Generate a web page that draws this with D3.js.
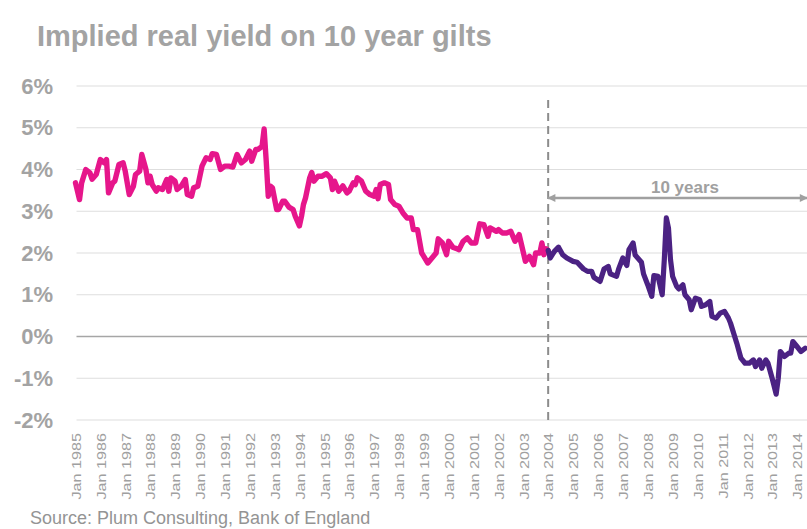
<!DOCTYPE html>
<html>
<head>
<meta charset="utf-8">
<script src="https://cdn.jsdelivr.net/npm/d3@7"></script>
<style>
  body { margin: 0; background: #fff; }
  svg { display: block; font-family: "Liberation Sans", Arial, sans-serif; }
</style>
</head>
<body>
<script>
const width = 807;
const height = 529;

// Monthly readings, 1985 to 2003 (pink) and 2004 onward (purple), in %
const pinkDates = ["1985-01","1985-03","1985-04","1985-06","1985-08","1985-09","1985-11",
  "1986-01","1986-03","1986-04","1986-05","1986-07","1986-08","1986-10","1986-12",
  "1987-01","1987-03","1987-05","1987-06","1987-08","1987-09","1987-11","1987-12",
  "1988-01","1988-02","1988-04","1988-05","1988-07","1988-09","1988-10","1988-11",
  "1989-01","1989-02","1989-04","1989-06","1989-07","1989-09","1989-10","1989-12",
  "1990-02","1990-04","1990-06","1990-07","1990-09","1990-11",
  "1991-01","1991-03","1991-05","1991-07","1991-09","1991-11",
  "1992-01","1992-02","1992-04","1992-05","1992-07","1992-08","1992-09","1992-10","1992-11","1992-12",
  "1993-02","1993-03","1993-05","1993-06","1993-08","1993-10","1993-11",
  "1994-01","1994-02","1994-03","1994-04","1994-06","1994-07","1994-08","1994-10","1994-12",
  "1995-02","1995-04","1995-05","1995-06","1995-08","1995-10","1995-12",
  "1996-01","1996-03","1996-04","1996-05","1996-07","1996-09","1996-11",
  "1997-01","1997-02","1997-03","1997-04","1997-06","1997-08","1997-09","1997-11",
  "1998-01","1998-03","1998-05","1998-07","1998-08","1998-10","1998-12",
  "1999-01","1999-03","1999-05","1999-07","1999-08","1999-10","1999-12",
  "2000-01","2000-03","2000-05","2000-06","2000-08","2000-10","2000-12",
  "2001-02","2001-04","2001-06","2001-08","2001-09","2001-12",
  "2002-01","2002-03","2002-05","2002-07","2002-09","2002-11",
  "2003-02","2003-04","2003-06","2003-07","2003-09","2003-10","2003-11","2003-12","2004-01"];
const pinkValues = [3.68,3.28,3.68,4.00,3.92,3.77,3.88,
  4.24,4.16,4.24,3.44,3.68,3.72,4.12,4.16,
  3.96,3.40,3.60,3.88,3.96,4.36,4.00,3.68,
  3.84,3.64,3.48,3.56,3.52,3.76,3.48,3.80,
  3.72,3.52,3.60,3.76,3.40,3.36,3.56,3.60,
  4.08,4.28,4.24,4.38,4.36,4.00,
  4.08,4.08,4.06,4.36,4.16,4.24,
  4.44,4.20,4.48,4.48,4.55,4.97,4.20,3.36,3.60,3.56,
  3.04,3.04,3.24,3.24,3.10,3.04,2.88,
  2.65,2.88,3.16,3.32,3.80,3.93,3.72,3.84,3.84,
  3.90,3.80,3.52,3.72,3.48,3.61,3.44,
  3.48,3.68,3.64,3.80,3.72,3.48,3.40,
  3.36,3.52,3.30,3.64,3.68,3.64,3.28,3.16,
  3.12,2.96,2.84,2.84,2.56,2.56,2.00,
  1.92,1.76,1.88,2.00,2.34,2.24,1.96,
  2.28,2.14,2.10,2.08,2.28,2.36,2.24,
  2.24,2.70,2.68,2.40,2.60,2.52,
  2.56,2.48,2.48,2.52,2.28,2.44,
  1.80,1.92,1.72,2.00,2.00,2.24,1.96,2.10,2.06];

const purpleDates = ["2004-01","2004-02","2004-04","2004-06","2004-08","2004-10",
  "2005-01","2005-03","2005-06","2005-08","2005-10","2005-11",
  "2006-02","2006-04","2006-06","2006-07","2006-10","2006-11",
  "2007-01","2007-03","2007-04","2007-06","2007-07","2007-10","2007-11",
  "2008-01","2008-03","2008-04","2008-06","2008-08","2008-09","2008-10","2008-11","2008-12",
  "2009-01","2009-03","2009-04","2009-06","2009-07","2009-09","2009-10","2009-12",
  "2010-02","2010-03","2010-05","2010-07","2010-08","2010-10","2010-12",
  "2011-02","2011-04","2011-05","2011-07","2011-08","2011-10","2011-12",
  "2012-02","2012-04","2012-05","2012-07","2012-08","2012-10","2012-11",
  "2013-01","2013-03","2013-04","2013-05","2013-07","2013-09","2013-10","2013-11",
  "2014-01","2014-03","2014-05"];
const purpleValues = [2.06,1.88,2.04,2.14,1.96,1.88,
  1.80,1.78,1.62,1.56,1.56,1.42,
  1.32,1.62,1.68,1.50,1.44,1.62,
  1.88,1.70,2.08,2.24,1.95,1.78,1.50,
  1.24,0.96,1.46,1.44,1.00,1.84,2.84,2.60,1.84,
  1.44,1.20,1.14,1.24,1.00,0.88,0.64,0.92,
  0.88,0.72,0.76,0.84,0.48,0.44,0.56,
  0.60,0.44,0.32,0.00,-0.16,-0.52,-0.64,
  -0.64,-0.56,-0.72,-0.56,-0.76,-0.56,-0.64,
  -1.00,-1.38,-1.00,-0.36,-0.48,-0.40,-0.40,-0.12,
  -0.24,-0.36,-0.28];

const yTicks = [-2, -1, 0, 1, 2, 3, 4, 5, 6];
const tickYears = d3.range(1985, 2015);
const splitDate = "2004-01";
const spanLabel = "10 years";

const parse = d3.utcParse("%Y-%m");
const pink = pinkDates.map((d, i) => ({ date: parse(d), value: pinkValues[i] }));
const purple = purpleDates.map((d, i) => ({ date: parse(d), value: purpleValues[i] }));

const svg = d3.select("body").append("svg")
    .attr("width", width)
    .attr("height", height)
    .style("background", "#fff");

const x = d3.scaleUtc()
    .domain([parse("1985-01"), parse("2014-01")])
    .range([75.5, 797]);

const y = d3.scaleLinear()
    .domain([-2, 6])
    .range([420, 86]);

// title
svg.append("text")
    .attr("x", 37)
    .attr("y", 46)
    .attr("font-size", 29)
    .attr("font-weight", "bold")
    .attr("fill", "#a3a3a3")
    .text("Implied real yield on 10 year gilts");

// grid
svg.append("g")
    .selectAll("line")
    .data(yTicks)
    .join("line")
    .attr("x1", 76.5)
    .attr("x2", width)
    .attr("y1", d => y(d))
    .attr("y2", d => y(d))
    .attr("stroke", d => d === 0 ? "#a6a6a6" : "#dedede")
    .attr("stroke-width", d => d === 0 ? 1.5 : 1.2);

// y axis labels
const yAxis = svg.append("g")
    .attr("transform", "translate(53,0)")
    .call(d3.axisLeft(y).tickValues(yTicks).tickSize(0).tickPadding(0).tickFormat(d => d + "%"));
yAxis.select(".domain").remove();
yAxis.attr("font-family", null).attr("font-size", null);
yAxis.selectAll("text")
    .attr("font-size", 22)
    .attr("font-weight", "bold")
    .attr("fill", "#a3a3a3");

// x axis labels
const xAxis = svg.append("g")
    .attr("transform", "translate(0,420)")
    .call(d3.axisBottom(x)
        .tickValues(tickYears.map(yr => parse(yr + "-01")))
        .tickSize(0)
        .tickFormat(d3.utcFormat("Jan %Y")));
xAxis.select(".domain").remove();
xAxis.attr("font-family", null).attr("font-size", null);
xAxis.selectAll("text")
    .attr("y", 0)
    .attr("dy", null)
    .attr("text-anchor", "end")
    .attr("font-size", 16.2)
    .attr("fill", "#a0a0a0")
    .attr("transform", "translate(4.8,13) rotate(-90) scale(1,0.82)");

// dashed marker at the split
const xs = x(parse(splitDate));
svg.append("line")
    .attr("x1", xs).attr("x2", xs)
    .attr("y1", 100).attr("y2", 420)
    .attr("stroke", "#8c8c8c")
    .attr("stroke-width", 2)
    .attr("stroke-dasharray", "8,5");

// span arrow
const defs = svg.append("defs");
defs.append("marker")
    .attr("id", "arrow")
    .attr("viewBox", "0 0 10 10")
    .attr("refX", 9)
    .attr("refY", 5)
    .attr("markerUnits", "userSpaceOnUse")
    .attr("markerWidth", 9)
    .attr("markerHeight", 8)
    .attr("orient", "auto-start-reverse")
    .append("path")
    .attr("d", "M0,0L10,5L0,10z")
    .attr("fill", "#a0a0a0");

svg.append("line")
    .attr("x1", xs).attr("x2", width)
    .attr("y1", 198).attr("y2", 198)
    .attr("stroke", "#a0a0a0")
    .attr("stroke-width", 2.6)
    .attr("marker-start", "url(#arrow)")
    .attr("marker-end", "url(#arrow)");

svg.append("text")
    .attr("x", 685)
    .attr("y", 193)
    .attr("text-anchor", "middle")
    .attr("font-size", 17)
    .attr("font-weight", "bold")
    .attr("fill", "#a0a0a0")
    .text(spanLabel);

// series lines
const line = d3.line()
    .x(d => x(d.date))
    .y(d => y(d.value));

svg.append("path")
    .datum(pink)
    .attr("d", line)
    .attr("fill", "none")
    .attr("stroke", "#e6168b")
    .attr("stroke-width", 5.4)
    .attr("stroke-linejoin", "round")
    .attr("stroke-linecap", "round");

svg.append("path")
    .datum(purple)
    .attr("d", line)
    .attr("fill", "none")
    .attr("stroke", "#4b2283")
    .attr("stroke-width", 5.2)
    .attr("stroke-linejoin", "round")
    .attr("stroke-linecap", "round");

// source
svg.append("text")
    .attr("x", 30)
    .attr("y", 524)
    .attr("font-size", 18)
    .attr("fill", "#949494")
    .text("Source: Plum Consulting, Bank of England");
</script>
</body>
</html>
